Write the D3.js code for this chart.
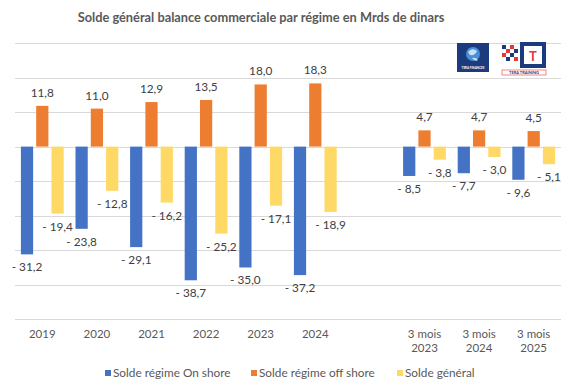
<!DOCTYPE html>
<html><head><meta charset="utf-8">
<script src="https://cdn.jsdelivr.net/npm/d3@7"></script>
<style>body{margin:0;background:#fff;} svg{display:block;}</style>
</head><body>
<svg id="chart" width="576" height="392"></svg>
<script>
const categories = ["2019","2020","2021","2022","2023","2024","","3 mois\n2023","3 mois\n2024","3 mois\n2025"];
const onshore = [-31.2,-23.8,-29.1,-38.7,-35.0,-37.2,null,-8.5,-7.7,-9.6];
const offshore = [11.8,11.0,12.9,13.5,18.0,18.3,null,4.7,4.7,4.5];
const general = [-19.4,-12.8,-16.2,-25.2,-17.1,-18.9,null,-3.8,-3.0,-5.1];
const seriesNames = ["Solde régime On shore","Solde régime off shore","Solde général"];
const seriesColors = ["#4472C4","#ED7D31","#FFD966"];
const yTicks = [30,20,10,0,-10,-20,-30,-40,-50];
const title = "Solde général balance commerciale par régime en Mrds de dinars";

const svg = d3.select("#chart");
const font = "Lato, 'Open Sans', sans-serif";
const seriesData = [onshore, offshore, general];

const x = d3.scaleBand().domain(categories.map((c,i)=>i)).range([15,561]).paddingInner(0).paddingOuter(0);
const x1 = d3.scaleBand().domain([0,1,2]).range([5.9,48.7]).paddingInner(0.2).paddingOuter(0);
const y = d3.scaleLinear().domain([-50,30]).range([319.3,43]);

// gridlines
svg.append("g").selectAll("line").data(yTicks).join("line")
  .attr("x1",15).attr("x2",561)
  .attr("y1",d=>Math.round(y(d))+0.5).attr("y2",d=>Math.round(y(d))+0.5)
  .attr("stroke","#D9D9D9").attr("stroke-width",1);

// title
svg.append("text").attr("x",261).attr("y",22).attr("text-anchor","middle")
  .attr("font-family",font).attr("font-size",12.8).attr("font-weight",700)
  .attr("fill","#595959").text(title);

// bars
const fmt = v => (v<0 ? "- " : "") + d3.format(".1f")(Math.abs(v)).replace(".",",");
seriesData.forEach((vals,s)=>{
  const g = svg.append("g");
  const data = vals.map((v,i)=>({v,i})).filter(d=>d.v!==null);
  g.selectAll("rect").data(data).join("rect")
    .attr("x",d=>x(d.i)+x1(s)).attr("width",x1.bandwidth())
    .attr("y",d=>y(Math.max(0,d.v))).attr("height",d=>Math.abs(y(d.v)-y(0)))
    .attr("fill",seriesColors[s]);
  g.selectAll("text").data(data).join("text")
    .attr("x",d=>x(d.i)+x1(s)+x1.bandwidth()/2)
    .attr("y",d=>d.v<0 ? y(d.v)+17 : y(d.v)-9)
    .attr("text-anchor","middle").attr("font-family",font).attr("font-size",11.8)
    .attr("fill","#404040").text(d=>fmt(d.v));
});

// x axis labels (one text element per line)
const xl = svg.append("g");
categories.forEach((c,i)=>{
  if(!c) return;
  c.split("\n").forEach((line,k)=>{
    xl.append("text").attr("x",x(i)+x.bandwidth()/2).attr("y",337.5+k*14)
      .attr("text-anchor","middle").attr("font-family",font).attr("font-size",11.5)
      .attr("fill","#595959").text(line);
  });
});

// legend
const legX = [105,251,397];
seriesNames.forEach((n,s)=>{
  svg.append("rect").attr("x",legX[s]).attr("y",370).attr("width",6).attr("height",6).attr("fill",seriesColors[s]);
  svg.append("text").attr("x",legX[s]+8).attr("y",377).attr("font-family",font).attr("font-size",11.8)
    .attr("fill","#595959").text(n);
});

// logos (decorative)
const lg = svg.append("g");
lg.append("rect").attr("x",457).attr("y",43).attr("width",32).attr("height",29).attr("fill","#1B3B7E");
lg.append("circle").attr("cx",473).attr("cy",54).attr("r",7).attr("fill","#4A8FD6");
lg.append("path").attr("d","M468,52 q4,-5 9,-1 q-2,5 -7,4 z M472,58 q4,-1 6,2 q-3,2 -6,-2 z").attr("fill","#C9E2F7");
lg.append("text").attr("x",473).attr("y",68.5).attr("text-anchor","middle").attr("font-family",font)
  .attr("font-size",3).attr("font-weight",700).attr("fill","#fff").text("TERA FINANCES");
// checker
const ck = [[502,45,"#1B3B7E"],[506,49,"#E53935"],[510,53,"#1B3B7E"],[514,49,"#1B3B7E"],[510,45,"#E53935"],[514,57,"#E53935"],[506,57,"#1B3B7E"],[502,53,"#E53935"]];
ck.forEach(c=>lg.append("rect").attr("x",c[0]).attr("y",c[1]).attr("width",4).attr("height",4).attr("fill",c[2]));
lg.append("rect").attr("x",520).attr("y",42).attr("width",26).attr("height",26).attr("fill","#1B3B7E");
lg.append("rect").attr("x",524).attr("y",46).attr("width",18).attr("height",18).attr("fill","#fff");
lg.append("text").attr("x",533).attr("y",61).attr("text-anchor","middle").attr("font-family",font)
  .attr("font-size",13).attr("font-weight",700).attr("fill","#E53935").text("T");
lg.append("rect").attr("x",502).attr("y",70).attr("width",44).attr("height",5).attr("fill","#fff").attr("stroke","#E53935").attr("stroke-width",0.6);
lg.append("text").attr("x",524).attr("y",74.3).attr("text-anchor","middle").attr("font-family",font)
  .attr("font-size",4).attr("font-weight",700).attr("fill","#1B3B7E").text("TERA TRAINING");
</script>
</body></html>
